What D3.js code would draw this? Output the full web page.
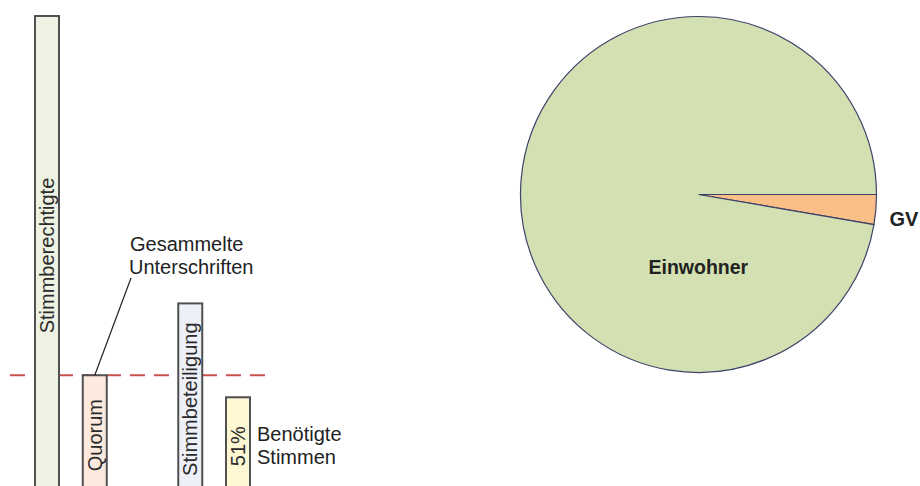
<!DOCTYPE html>
<html>
<head>
<meta charset="utf-8">
<script src="https://cdn.jsdelivr.net/npm/d3@7"></script>
<style>
  body { margin: 0; background: #fff; }
  svg { display: block; font-family: "Liberation Sans", Arial, sans-serif; }
</style>
</head>
<body>
<svg id="chart" width="920" height="486"></svg>
<script>
// Data
const barLabels = ['Stimmberechtigte', 'Quorum', 'Stimmbeteiligung', '51%'];
const barValues = [100, 25, 40, 20.4];
const barSlots = [0, 1, 3, 4];
const barFills = ['#eef2e3', '#fdeadf', '#eef0f8', '#fdf8d3'];
const quorumValue = 25;

const pieLabels = ['GV', 'Einwohner'];
const pieValues = [2.7, 97.3];
const pieFills = ['#f9bf87', '#d3e0b1'];

const svg = d3.select('#chart');

// Bars
const x = d3.scaleLinear().domain([0, 4]).range([35, 226]);
const y = d3.scaleLinear().domain([0, 100]).range([495, 16]);
const bw = 24;

const bars = barLabels.map((label, i) => ({label, value: barValues[i], slot: barSlots[i], fill: barFills[i]}));

svg.append('line')
    .attr('x1', 10).attr('x2', 269)
    .attr('y1', y(quorumValue)).attr('y2', y(quorumValue))
    .attr('stroke', '#c9534c')
    .attr('stroke-width', 2)
    .attr('stroke-dasharray', '15,9');

const barG = svg.append('g');
barG.selectAll('rect')
    .data(bars)
    .join('rect')
    .attr('x', d => x(d.slot))
    .attr('y', d => y(d.value))
    .attr('width', bw)
    .attr('height', d => y(0) - y(d.value))
    .attr('fill', d => d.fill)
    .attr('stroke', '#505050')
    .attr('stroke-width', 2);

barG.selectAll('text')
    .data(bars)
    .join('text')
    .attr('transform', d => {
        const cx = x(d.slot) + bw / 2;
        const cy = (y(d.value) + y(0)) / 2;
        return `translate(${cx},${cy}) rotate(-90)`;
    })
    .attr('text-anchor', 'middle')
    .attr('dy', '0.36em')
    .attr('fill', '#2b2b2b')
    .style('font-size', '20px')
    .text(d => d.label);

// Annotations
const annot = svg.append('g').attr('fill', '#222').style('font-size', '20px');
annot.append('text').attr('x', 130).attr('y', 251).text('Gesammelte');
annot.append('text').attr('x', 129).attr('y', 274).text('Unterschriften');
annot.append('text').attr('x', 257).attr('y', 441).text('Benötigte');
annot.append('text').attr('x', 257).attr('y', 464).text('Stimmen');

svg.append('line')
    .attr('x1', 131).attr('y1', 278)
    .attr('x2', x(1) + 12).attr('y2', y(quorumValue))
    .attr('stroke', '#222')
    .attr('stroke-width', 1.2);

// Pie
const cx = 698.5, cy = 194.5, r = 178;
const pie = d3.pie().sort(null).startAngle(Math.PI / 2).endAngle(Math.PI / 2 + 2 * Math.PI);
const arcs = pie(pieValues);
const arc = d3.arc().innerRadius(0).outerRadius(r);

const pieG = svg.append('g').attr('transform', `translate(${cx},${cy})`);
pieG.selectAll('path')
    .data(arcs)
    .join('path')
    .attr('d', arc)
    .attr('fill', (d, i) => pieFills[i])
    .attr('stroke', '#3e426b')
    .attr('stroke-width', 1.2);

pieG.append('text')
    .attr('x', -50).attr('y', 79)
    .attr('fill', '#222')
    .style('font-size', '19.5px')
    .style('font-weight', 'bold')
    .text(pieLabels[1]);

pieG.append('text')
    .attr('x', 191).attr('y', 31)
    .attr('fill', '#222')
    .style('font-size', '20px')
    .style('font-weight', 'bold')
    .text(pieLabels[0]);
</script>
</body>
</html>
